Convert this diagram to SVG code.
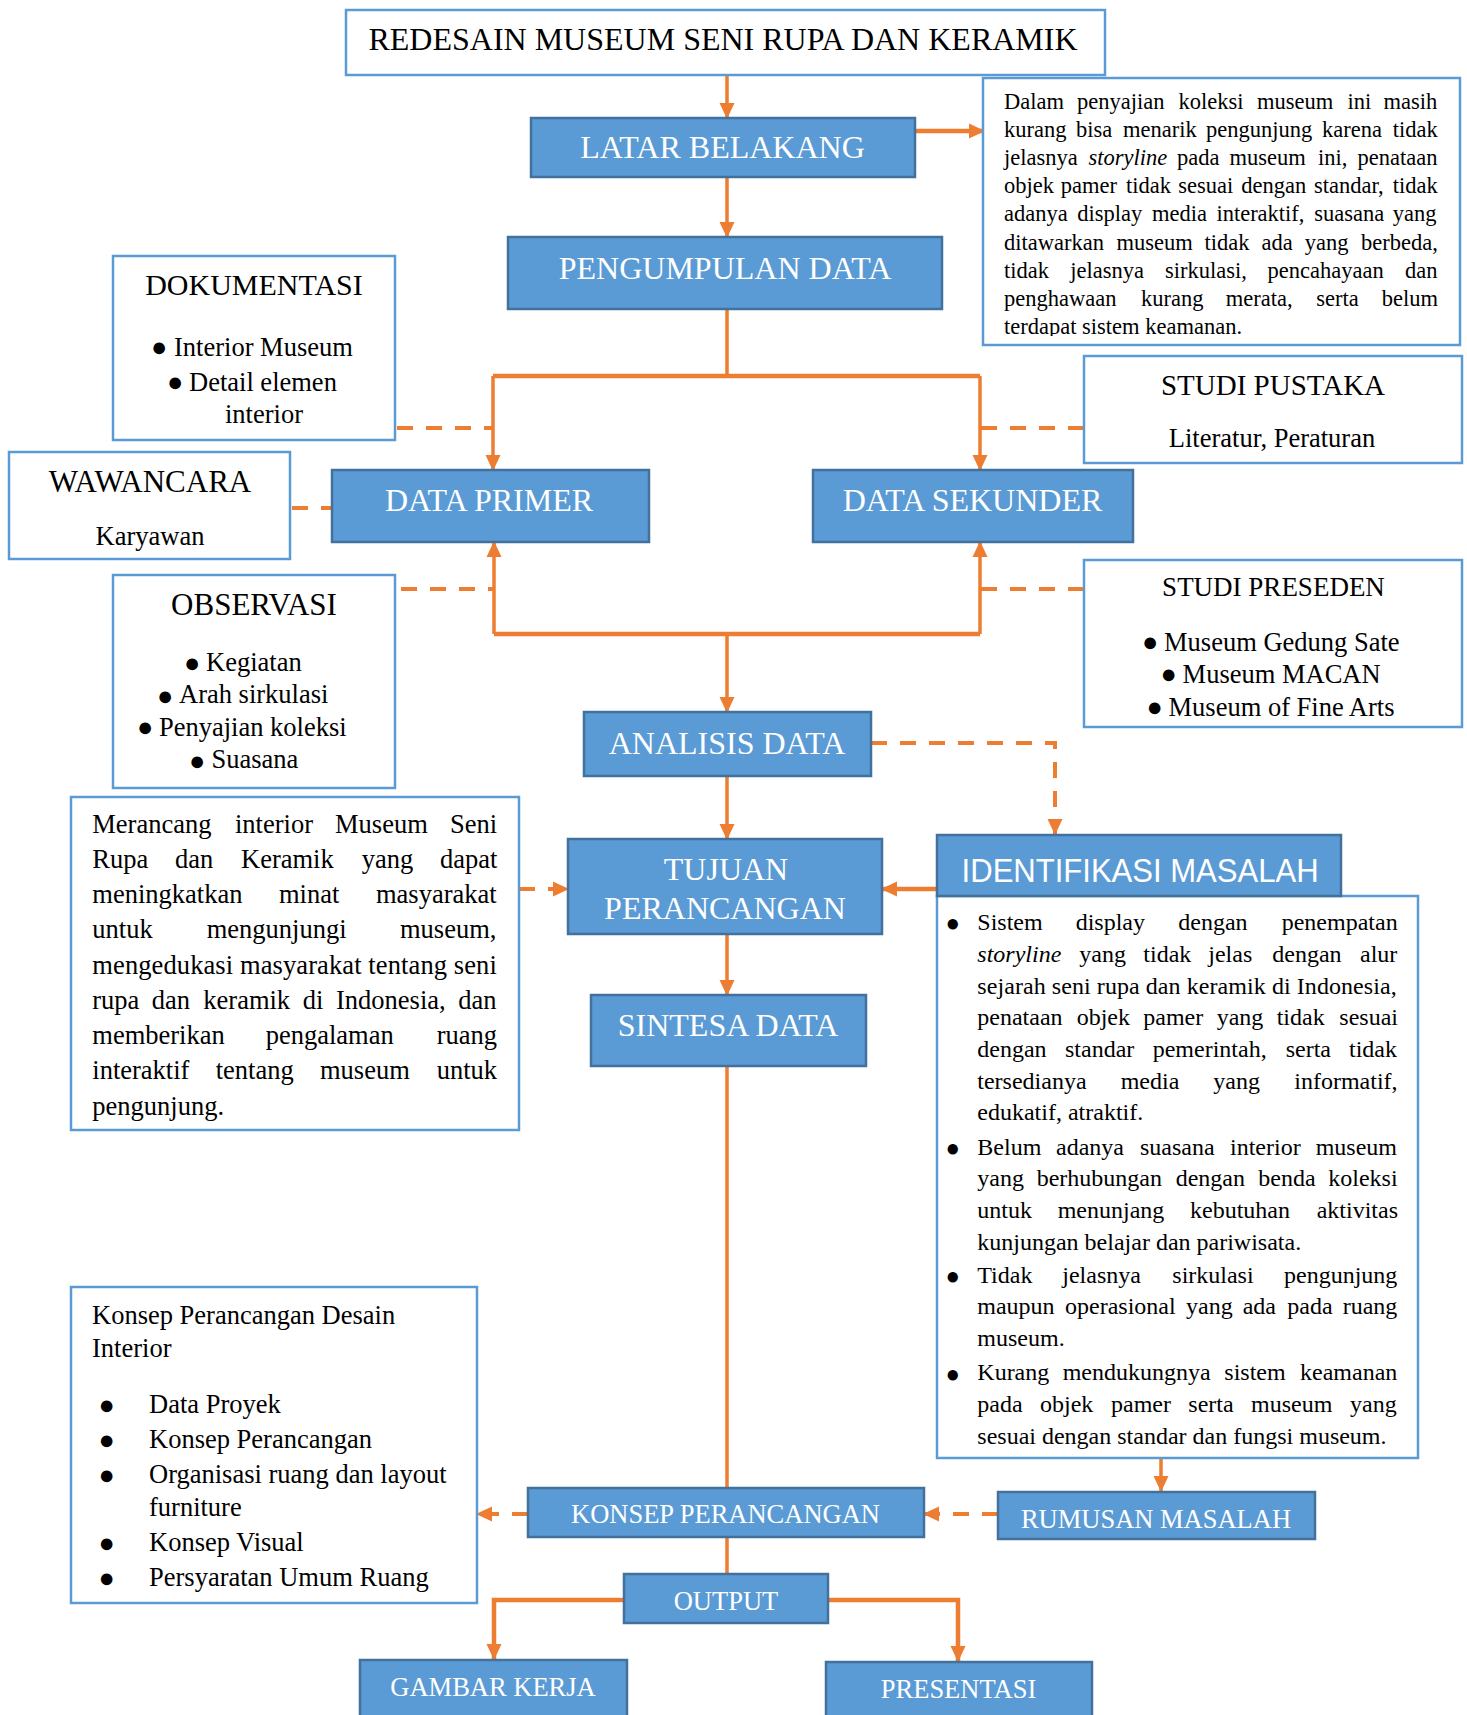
<svg xmlns="http://www.w3.org/2000/svg" width="1467" height="1715" viewBox="0 0 1467 1715">
<style>
text{font-family:'Liberation Serif','Times New Roman',serif;fill:#000}
.w{fill:#fff}
.h32{font-size:32px}
.h26{font-size:26.5px}
.s26{font-size:26.5px}
.p22{font-size:22.5px}
.p24{font-size:24px}
.bl{font-family:'Liberation Sans',Arial,sans-serif;font-size:27px}
.bs{font-family:'Liberation Sans',Arial,sans-serif;font-size:24px}
.mid{text-anchor:middle}
.bx{fill:#5B9BD5;stroke:#41719C;stroke-width:2.5}
.wb{fill:#fff;stroke:#5B9BD5;stroke-width:2.5}
.c{fill:none;stroke:#ED7D31;stroke-width:3.5}
.cb{fill:none;stroke:#ED7D31;stroke-width:4.5}
.d{fill:none;stroke:#ED7D31;stroke-width:4;stroke-dasharray:16 13}
</style>
<defs>
<marker id="ah" markerUnits="userSpaceOnUse" markerWidth="16" markerHeight="16" viewBox="0 0 16 16" refX="15" refY="8" orient="auto">
<path d="M0,0.5 L16,8 L0,15.5 z" fill="#ED7D31"/>
</marker>
<clipPath id="clipTR"><rect x="984" y="79" width="475" height="257"/></clipPath>
</defs>
<rect width="1467" height="1715" fill="#fff"/>

<g id="connectors">
<path class="c" d="M727,75 V118" marker-end="url(#ah)"/>
<path class="cb" d="M915,131 H984" marker-end="url(#ah)"/>
<path class="c" d="M727,177 V237" marker-end="url(#ah)"/>
<path class="c" d="M727,309 V376"/>
<path class="cb" d="M493,376 H980"/>
<path class="c" d="M493,376 V470" marker-end="url(#ah)"/>
<path class="c" d="M980,376 V470" marker-end="url(#ah)"/>
<path class="cb" d="M494,634 H980"/>
<path class="c" d="M494,634 V542" marker-end="url(#ah)"/>
<path class="c" d="M980,634 V542" marker-end="url(#ah)"/>
<path class="c" d="M727,634 V712" marker-end="url(#ah)"/>
<path class="c" d="M727,776 V839" marker-end="url(#ah)"/>
<path class="c" d="M727,934 V995" marker-end="url(#ah)"/>
<path class="c" d="M727,1066 V1488"/>
<path class="c" d="M727,1537 V1574"/>
<path class="cb" d="M624,1600 H494 V1659" marker-end="url(#ah)"/>
<path class="cb" d="M828,1600 H958 V1661" marker-end="url(#ah)"/>
<path class="c" d="M1161,1458 V1491" marker-end="url(#ah)"/>
<path class="cb" d="M937,889 H882" marker-end="url(#ah)"/>
<path class="d" d="M397,428 H493"/>
<path class="d" d="M1084,428 H980"/>
<path class="d" d="M292,508 H332"/>
<path class="d" d="M401,589 H494"/>
<path class="d" d="M1084,589 H980"/>
<path class="d" d="M871,743 H1055 V834" marker-end="url(#ah)"/>
<path class="d" d="M519,889 H568" marker-end="url(#ah)"/>
<path class="d" d="M528,1514 H477" marker-end="url(#ah)"/>
<path class="d" d="M998,1514 H924" marker-end="url(#ah)"/>
</g>

<g id="title">
<rect class="wb" x="346" y="10" width="759" height="65"/>
<text class="h32 mid" x="723" y="50">REDESAIN MUSEUM SENI RUPA DAN KERAMIK</text>
</g>

<g id="latar-belakang">
<rect class="bx" x="531" y="118" width="384" height="59"/>
<text class="w h32 mid" x="722.5" y="158">LATAR BELAKANG</text>
</g>

<g id="latar-text">
<rect class="wb" x="983" y="78" width="477" height="267"/>
<g clip-path="url(#clipTR)">
<text class="p22" y="109"><tspan x="1004">Dalam</tspan><tspan x="1077">penyajian</tspan><tspan x="1178.5">koleksi</tspan><tspan x="1257">museum</tspan><tspan x="1347.5">ini</tspan><tspan x="1383.4">masih</tspan></text>
<text class="p22" y="137.1"><tspan x="1004">kurang</tspan><tspan x="1076">bisa</tspan><tspan x="1123">menarik</tspan><tspan x="1206">pengunjung</tspan><tspan x="1322">karena</tspan><tspan x="1392.7">tidak</tspan></text>
<text class="p22" y="165.2"><tspan x="1004">jelasnya</tspan><tspan x="1088.6" font-style="italic">storyline</tspan><tspan x="1177">pada</tspan><tspan x="1229.5">museum</tspan><tspan x="1318">ini,</tspan><tspan x="1357.5">penataan</tspan></text>
<text class="p22" y="193.3"><tspan x="1004">objek</tspan><tspan x="1060.7">pamer</tspan><tspan x="1126">tidak</tspan><tspan x="1178.2">sesuai</tspan><tspan x="1241.3">dengan</tspan><tspan x="1314">standar,</tspan><tspan x="1392.7">tidak</tspan></text>
<text class="p22" y="221.4"><tspan x="1004">adanya</tspan><tspan x="1077.3">display</tspan><tspan x="1152">media</tspan><tspan x="1216.4">interaktif,</tspan><tspan x="1314.3">suasana</tspan><tspan x="1392.7">yang</tspan></text>
<text class="p22" y="249.5"><tspan x="1004">ditawarkan</tspan><tspan x="1116.5">museum</tspan><tspan x="1204.4">tidak</tspan><tspan x="1261.5">ada</tspan><tspan x="1304.7">yang</tspan><tspan x="1361">berbeda,</tspan></text>
<text class="p22" y="277.6"><tspan x="1004">tidak</tspan><tspan x="1070.3">jelasnya</tspan><tspan x="1165">sirkulasi,</tspan><tspan x="1267.5">pencahayaan</tspan><tspan x="1405">dan</tspan></text>
<text class="p22" y="305.7"><tspan x="1004">penghawaan</tspan><tspan x="1141">kurang</tspan><tspan x="1225.7">merata,</tspan><tspan x="1316.3">serta</tspan><tspan x="1381.7">belum</tspan></text>
<text class="p22" x="1004" y="333.8">terdapat sistem keamanan.</text>
</g>
</g>

<g id="pengumpulan-data">
<rect class="bx" x="508" y="237" width="434" height="72"/>
<text class="w h32 mid" x="725" y="278.5">PENGUMPULAN DATA</text>
</g>

<g id="dokumentasi">
<rect class="wb" x="113" y="256" width="282" height="184"/>
<text class="mid" font-size="30" x="254" y="295">DOKUMENTASI</text>
<text class="bl" x="150.9" y="355.5">●</text>
<text class="s26" x="174" y="355.5">Interior Museum</text>
<text class="bl" x="166.9" y="390.7">●</text>
<text class="s26" x="189" y="390.5">Detail elemen</text>
<text class="s26" x="225" y="423">interior</text>
</g>

<g id="studi-pustaka">
<rect class="wb" x="1084" y="356" width="378" height="107"/>
<text class="mid" font-size="29" x="1273" y="394.5">STUDI PUSTAKA</text>
<text class="s26 mid" x="1272" y="447">Literatur, Peraturan</text>
</g>

<g id="wawancara">
<rect class="wb" x="9" y="452" width="281" height="107"/>
<text class="mid" font-size="31" x="150" y="492">WAWANCARA</text>
<text class="s26 mid" x="150" y="545">Karyawan</text>
</g>

<g id="data-primer">
<rect class="bx" x="332" y="470" width="317" height="72"/>
<text class="w h32 mid" x="489" y="511">DATA PRIMER</text>
</g>

<g id="data-sekunder">
<rect class="bx" x="813" y="470" width="320" height="72"/>
<text class="w h32 mid" x="972.5" y="511">DATA SEKUNDER</text>
</g>

<g id="observasi">
<rect class="wb" x="113" y="575" width="282" height="213"/>
<text class="mid" font-size="31" x="254" y="615">OBSERVASI</text>
<text class="bl" x="183.9" y="672">●</text>
<text class="s26" x="206" y="671">Kegiatan</text>
<text class="bl" x="156.9" y="704.5">●</text>
<text class="s26" x="179" y="703">Arah sirkulasi</text>
<text class="bl" x="136.9" y="736">●</text>
<text class="s26" x="159" y="735.5">Penyajian koleksi</text>
<text class="bl" x="188.9" y="769.6">●</text>
<text class="s26" x="211.5" y="768">Suasana</text>
</g>

<g id="studi-preseden">
<rect class="wb" x="1084" y="560" width="378" height="167"/>
<text class="mid" font-size="27" x="1273.5" y="596">STUDI PRESEDEN</text>
<text class="bl" x="1141.9" y="651">●</text>
<text class="s26" x="1164" y="650.5">Museum Gedung Sate</text>
<text class="bl" x="1160.4" y="683.4">●</text>
<text class="s26" x="1182.6" y="683">Museum MACAN</text>
<text class="bl" x="1146.4" y="716">●</text>
<text class="s26" x="1168.5" y="715.5">Museum of Fine Arts</text>
</g>

<g id="analisis-data">
<rect class="bx" x="584" y="712" width="287" height="64"/>
<text class="w h32 mid" x="727" y="753.5">ANALISIS DATA</text>
</g>

<g id="tujuan-text">
<rect class="wb" x="71" y="797" width="448" height="333"/>
<text class="s26" y="832.5"><tspan x="92.3">Merancang</tspan><tspan x="235">interior</tspan><tspan x="335">Museum</tspan><tspan x="450">Seni</tspan></text>
<text class="s26" y="867.75"><tspan x="92.3">Rupa</tspan><tspan x="175">dan</tspan><tspan x="241">Keramik</tspan><tspan x="361.7">yang</tspan><tspan x="440">dapat</tspan></text>
<text class="s26" y="903"><tspan x="92.3">meningkatkan</tspan><tspan x="279">minat</tspan><tspan x="376">masyarakat</tspan></text>
<text class="s26" y="938.25"><tspan x="92.3">untuk</tspan><tspan x="206.7">mengunjungi</tspan><tspan x="400">museum,</tspan></text>
<text class="s26" x="92.3" y="973.5" textLength="404.5" lengthAdjust="spacing">mengedukasi masyarakat tentang seni</text>
<text class="s26" y="1008.75"><tspan x="92.3">rupa</tspan><tspan x="151.7">dan</tspan><tspan x="203.3">keramik</tspan><tspan x="302.7">di</tspan><tspan x="336">Indonesia,</tspan><tspan x="458.3">dan</tspan></text>
<text class="s26" y="1044"><tspan x="92.3">memberikan</tspan><tspan x="265.7">pengalaman</tspan><tspan x="436.7">ruang</tspan></text>
<text class="s26" y="1079.25"><tspan x="92.3">interaktif</tspan><tspan x="215.7">tentang</tspan><tspan x="320">museum</tspan><tspan x="436.7">untuk</tspan></text>
<text class="s26" x="92.3" y="1114.5">pengunjung.</text>
</g>

<g id="tujuan-perancangan">
<rect class="bx" x="568" y="839" width="314" height="95"/>
<text class="w h32 mid" x="726" y="880">TUJUAN</text>
<text class="w h32 mid" x="725" y="919">PERANCANGAN</text>
</g>

<g id="identifikasi-masalah">
<rect class="wb" x="937" y="896" width="481" height="562"/>
<rect class="bx" x="937" y="835" width="404" height="61"/>
<text class="w" style="font-family:'Liberation Sans',Arial,sans-serif" font-size="32.5" x="961.6" y="881.7" textLength="357" lengthAdjust="spacingAndGlyphs">IDENTIFIKASI MASALAH</text>
<text class="bs" x="945.5" y="930.6">●</text>
<text class="bs" x="945.5" y="1155.9">●</text>
<text class="bs" x="945.5" y="1283.9">●</text>
<text class="bs" x="945.5" y="1381.5">●</text>
<text class="p24" y="930"><tspan x="977.3">Sistem</tspan><tspan x="1075.7">display</tspan><tspan x="1178.3">dengan</tspan><tspan x="1281.7">penempatan</tspan></text>
<text class="p24" y="962"><tspan x="977.3" font-style="italic">storyline</tspan><tspan x="1079.3">yang</tspan><tspan x="1143.3">tidak</tspan><tspan x="1208.3">jelas</tspan><tspan x="1272.3">dengan</tspan><tspan x="1360">alur</tspan></text>
<text class="p24" x="977.3" y="993.6" textLength="419.4" lengthAdjust="spacing">sejarah seni rupa dan keramik di Indonesia,</text>
<text class="p24" y="1025.3"><tspan x="977.3">penataan</tspan><tspan x="1076.7">objek</tspan><tspan x="1143.3">pamer</tspan><tspan x="1216.7">yang</tspan><tspan x="1276.7">tidak</tspan><tspan x="1339.3">sesuai</tspan></text>
<text class="p24" y="1056.8"><tspan x="977.3">dengan</tspan><tspan x="1065">standar</tspan><tspan x="1152.7">pemerintah,</tspan><tspan x="1285.7">serta</tspan><tspan x="1349">tidak</tspan></text>
<text class="p24" y="1088.8"><tspan x="977.3">tersedianya</tspan><tspan x="1120.7">media</tspan><tspan x="1213.3">yang</tspan><tspan x="1294.3">informatif,</tspan></text>
<text class="p24" x="977.3" y="1120">edukatif, atraktif.</text>
<text class="p24" y="1154.5"><tspan x="977.3">Belum</tspan><tspan x="1056">adanya</tspan><tspan x="1140">suasana</tspan><tspan x="1230">interior</tspan><tspan x="1315.7">museum</tspan></text>
<text class="p24" y="1186"><tspan x="977.3">yang</tspan><tspan x="1036.7">berhubungan</tspan><tspan x="1175.7">dengan</tspan><tspan x="1258.3">benda</tspan><tspan x="1328.3">koleksi</tspan></text>
<text class="p24" y="1217.7"><tspan x="977.3">untuk</tspan><tspan x="1057.7">menunjang</tspan><tspan x="1190">kebutuhan</tspan><tspan x="1316.7">aktivitas</tspan></text>
<text class="p24" x="977.3" y="1249.5">kunjungan belajar dan pariwisata.</text>
<text class="p24" y="1282.5"><tspan x="977.3">Tidak</tspan><tspan x="1062.3">jelasnya</tspan><tspan x="1172.3">sirkulasi</tspan><tspan x="1284">pengunjung</tspan></text>
<text class="p24" y="1314.3"><tspan x="977.3">maupun</tspan><tspan x="1065">operasional</tspan><tspan x="1186">yang</tspan><tspan x="1242.7">ada</tspan><tspan x="1287.3">pada</tspan><tspan x="1342.7">ruang</tspan></text>
<text class="p24" x="977.3" y="1346">museum.</text>
<text class="p24" y="1380"><tspan x="977.3">Kurang</tspan><tspan x="1062.7">mendukungnya</tspan><tspan x="1224.3">sistem</tspan><tspan x="1300">keamanan</tspan></text>
<text class="p24" y="1411.8"><tspan x="977.3">pada</tspan><tspan x="1040">objek</tspan><tspan x="1111">pamer</tspan><tspan x="1188.3">serta</tspan><tspan x="1251">museum</tspan><tspan x="1350">yang</tspan></text>
<text class="p24" x="977.3" y="1443.5">sesuai dengan standar dan fungsi museum.</text>
</g>

<g id="sintesa-data">
<rect class="bx" x="591" y="995" width="275" height="71"/>
<text class="w h32 mid" x="728" y="1035.5">SINTESA DATA</text>
</g>

<g id="konsep-desain">
<rect class="wb" x="71" y="1287" width="406" height="316"/>
<text class="s26" x="92" y="1324">Konsep Perancangan Desain</text>
<text class="s26" x="92" y="1357">Interior</text>
<text class="bl" x="98.6" y="1414">●</text>
<text class="s26" x="149" y="1413">Data Proyek</text>
<text class="bl" x="98.6" y="1448.7">●</text>
<text class="s26" x="149" y="1448">Konsep Perancangan</text>
<text class="bl" x="98.6" y="1484">●</text>
<text class="s26" x="149" y="1483">Organisasi ruang dan layout</text>
<text class="s26" x="149" y="1516">furniture</text>
<text class="bl" x="98.6" y="1551.6">●</text>
<text class="s26" x="149" y="1551">Konsep Visual</text>
<text class="bl" x="98.6" y="1587">●</text>
<text class="s26" x="149" y="1586">Persyaratan Umum Ruang</text>
</g>

<g id="konsep-perancangan">
<rect class="bx" x="528" y="1488" width="396" height="49"/>
<text class="w h26 mid" x="725.5" y="1523">KONSEP PERANCANGAN</text>
</g>

<g id="rumusan-masalah">
<rect class="bx" x="998" y="1492" width="317" height="47"/>
<text class="w h26 mid" x="1156" y="1528">RUMUSAN MASALAH</text>
</g>

<g id="output">
<rect class="bx" x="624" y="1574" width="204" height="49"/>
<text class="w h26 mid" x="726" y="1610">OUTPUT</text>
</g>

<g id="gambar-kerja">
<rect class="bx" x="360" y="1660" width="267" height="62"/>
<text class="w h26 mid" x="493" y="1696">GAMBAR KERJA</text>
</g>

<g id="presentasi">
<rect class="bx" x="826" y="1662" width="266" height="60"/>
<text class="w h26 mid" x="958.5" y="1698">PRESENTASI</text>
</g>
</svg>
